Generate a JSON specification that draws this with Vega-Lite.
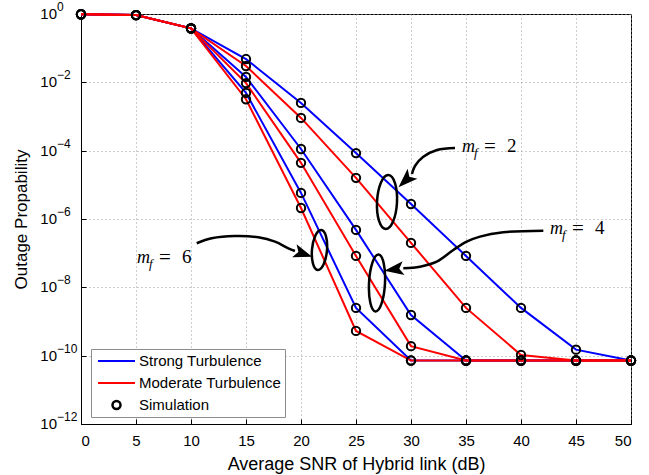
{
  "$schema": "https://vega.github.io/schema/vega-lite/v6.json",
  "width": 550,
  "height": 410,
  "autosize": "none",
  "padding": {"left": 81, "top": 14, "right": 18, "bottom": 51},
  "background": "white",
  "config": {
    "font": "Liberation Sans",
    "view": {"stroke": "black", "strokeWidth": 1},
    "axis": {
      "domainColor": "black",
      "tickColor": "black",
      "labelColor": "black",
      "titleColor": "black",
      "labelFont": "Liberation Sans",
      "titleFont": "Liberation Sans",
      "labelFontSize": 15,
      "titleFontSize": 17,
      "titleFontWeight": "normal",
      "gridColor": "#9a9a9a",
      "gridDash": [1, 3],
      "gridOpacity": 1,
      "gridWidth": 1,
      "tickSize": -5
    }
  },
  "datasets": {
    "curves": [
      {"snr": 0, "p": 0.98, "turb": "Strong Turbulence", "mf": 2},
      {"snr": 5, "p": 0.93, "turb": "Strong Turbulence", "mf": 2},
      {"snr": 10, "p": 0.38, "turb": "Strong Turbulence", "mf": 2},
      {"snr": 15, "p": 0.048, "turb": "Strong Turbulence", "mf": 2},
      {"snr": 20, "p": 2.5e-3, "turb": "Strong Turbulence", "mf": 2},
      {"snr": 25, "p": 8.5e-5, "turb": "Strong Turbulence", "mf": 2},
      {"snr": 30, "p": 2.75e-6, "turb": "Strong Turbulence", "mf": 2},
      {"snr": 35, "p": 8.3e-8, "turb": "Strong Turbulence", "mf": 2},
      {"snr": 40, "p": 2.5e-9, "turb": "Strong Turbulence", "mf": 2},
      {"snr": 45, "p": 1.5e-10, "turb": "Strong Turbulence", "mf": 2},
      {"snr": 50, "p": 7.2e-11, "turb": "Strong Turbulence", "mf": 2},

      {"snr": 0, "p": 0.98, "turb": "Strong Turbulence", "mf": 4},
      {"snr": 5, "p": 0.93, "turb": "Strong Turbulence", "mf": 4},
      {"snr": 10, "p": 0.38, "turb": "Strong Turbulence", "mf": 4},
      {"snr": 15, "p": 0.0144, "turb": "Strong Turbulence", "mf": 4},
      {"snr": 20, "p": 1.12e-4, "turb": "Strong Turbulence", "mf": 4},
      {"snr": 25, "p": 4.8e-7, "turb": "Strong Turbulence", "mf": 4},
      {"snr": 30, "p": 1.55e-9, "turb": "Strong Turbulence", "mf": 4},
      {"snr": 35, "p": 7.2e-11, "turb": "Strong Turbulence", "mf": 4},
      {"snr": 40, "p": 7.2e-11, "turb": "Strong Turbulence", "mf": 4},
      {"snr": 45, "p": 7.2e-11, "turb": "Strong Turbulence", "mf": 4},
      {"snr": 50, "p": 7.2e-11, "turb": "Strong Turbulence", "mf": 4},

      {"snr": 0, "p": 0.98, "turb": "Strong Turbulence", "mf": 6},
      {"snr": 5, "p": 0.93, "turb": "Strong Turbulence", "mf": 6},
      {"snr": 10, "p": 0.38, "turb": "Strong Turbulence", "mf": 6},
      {"snr": 15, "p": 4.9e-3, "turb": "Strong Turbulence", "mf": 6},
      {"snr": 20, "p": 5.8e-6, "turb": "Strong Turbulence", "mf": 6},
      {"snr": 25, "p": 2.5e-9, "turb": "Strong Turbulence", "mf": 6},
      {"snr": 30, "p": 7.2e-11, "turb": "Strong Turbulence", "mf": 6},
      {"snr": 35, "p": 7.2e-11, "turb": "Strong Turbulence", "mf": 6},
      {"snr": 40, "p": 7.2e-11, "turb": "Strong Turbulence", "mf": 6},
      {"snr": 45, "p": 7.2e-11, "turb": "Strong Turbulence", "mf": 6},
      {"snr": 50, "p": 7.2e-11, "turb": "Strong Turbulence", "mf": 6},

      {"snr": 0, "p": 0.98, "turb": "Moderate Turbulence", "mf": 2},
      {"snr": 5, "p": 0.93, "turb": "Moderate Turbulence", "mf": 2},
      {"snr": 10, "p": 0.38, "turb": "Moderate Turbulence", "mf": 2},
      {"snr": 15, "p": 0.030, "turb": "Moderate Turbulence", "mf": 2},
      {"snr": 20, "p": 9.1e-4, "turb": "Moderate Turbulence", "mf": 2},
      {"snr": 25, "p": 1.6e-5, "turb": "Moderate Turbulence", "mf": 2},
      {"snr": 30, "p": 2.0e-7, "turb": "Moderate Turbulence", "mf": 2},
      {"snr": 35, "p": 2.5e-9, "turb": "Moderate Turbulence", "mf": 2},
      {"snr": 40, "p": 1.05e-10, "turb": "Moderate Turbulence", "mf": 2},
      {"snr": 45, "p": 7.2e-11, "turb": "Moderate Turbulence", "mf": 2},
      {"snr": 50, "p": 7.2e-11, "turb": "Moderate Turbulence", "mf": 2},

      {"snr": 0, "p": 0.98, "turb": "Moderate Turbulence", "mf": 4},
      {"snr": 5, "p": 0.93, "turb": "Moderate Turbulence", "mf": 4},
      {"snr": 10, "p": 0.38, "turb": "Moderate Turbulence", "mf": 4},
      {"snr": 15, "p": 9.5e-3, "turb": "Moderate Turbulence", "mf": 4},
      {"snr": 20, "p": 4.4e-5, "turb": "Moderate Turbulence", "mf": 4},
      {"snr": 25, "p": 8.3e-8, "turb": "Moderate Turbulence", "mf": 4},
      {"snr": 30, "p": 1.9e-10, "turb": "Moderate Turbulence", "mf": 4},
      {"snr": 35, "p": 7.2e-11, "turb": "Moderate Turbulence", "mf": 4},
      {"snr": 40, "p": 7.2e-11, "turb": "Moderate Turbulence", "mf": 4},
      {"snr": 45, "p": 7.2e-11, "turb": "Moderate Turbulence", "mf": 4},
      {"snr": 50, "p": 7.2e-11, "turb": "Moderate Turbulence", "mf": 4},

      {"snr": 0, "p": 0.98, "turb": "Moderate Turbulence", "mf": 6},
      {"snr": 5, "p": 0.93, "turb": "Moderate Turbulence", "mf": 6},
      {"snr": 10, "p": 0.38, "turb": "Moderate Turbulence", "mf": 6},
      {"snr": 15, "p": 3.2e-3, "turb": "Moderate Turbulence", "mf": 6},
      {"snr": 20, "p": 2.1e-6, "turb": "Moderate Turbulence", "mf": 6},
      {"snr": 25, "p": 5.3e-10, "turb": "Moderate Turbulence", "mf": 6},
      {"snr": 30, "p": 7.2e-11, "turb": "Moderate Turbulence", "mf": 6},
      {"snr": 35, "p": 7.2e-11, "turb": "Moderate Turbulence", "mf": 6},
      {"snr": 40, "p": 7.2e-11, "turb": "Moderate Turbulence", "mf": 6},
      {"snr": 45, "p": 7.2e-11, "turb": "Moderate Turbulence", "mf": 6},
      {"snr": 50, "p": 7.2e-11, "turb": "Moderate Turbulence", "mf": 6}
    ],
    "decades": [
      {"snr": 0, "p": 1, "exp": "0"},
      {"snr": 0, "p": 1e-2, "exp": "−2"},
      {"snr": 0, "p": 1e-4, "exp": "−4"},
      {"snr": 0, "p": 1e-6, "exp": "−6"},
      {"snr": 0, "p": 1e-8, "exp": "−8"},
      {"snr": 0, "p": 1e-10, "exp": "−10"},
      {"snr": 0, "p": 1e-12, "exp": "−12"}
    ],
    "arrows": [
      {"mf": 2, "k": 0, "snr": 34.0, "p": 1.197e-4},
      {"mf": 2, "k": 1, "snr": 32.36, "p": 1.047e-4},
      {"mf": 2, "k": 2, "snr": 31.09, "p": 6.53e-5},
      {"mf": 2, "k": 3, "snr": 30.36, "p": 3.56e-5},
      {"mf": 2, "k": 4, "snr": 30.09, "p": 2.08e-5},

      {"mf": 4, "k": 0, "snr": 42.03, "p": 4.55e-7},
      {"mf": 4, "k": 1, "snr": 38.39, "p": 4.08e-7},
      {"mf": 4, "k": 2, "snr": 36.27, "p": 3.04e-7},
      {"mf": 4, "k": 3, "snr": 35.06, "p": 2.17e-7},
      {"mf": 4, "k": 4, "snr": 33.85, "p": 1.24e-7},
      {"mf": 4, "k": 5, "snr": 32.34, "p": 5.64e-8},
      {"mf": 4, "k": 6, "snr": 30.82, "p": 4.03e-8},
      {"mf": 4, "k": 7, "snr": 29.3, "p": 3.61e-8},

      {"mf": 6, "k": 0, "snr": 10.52, "p": 1.95e-7},
      {"mf": 6, "k": 1, "snr": 11.88, "p": 2.73e-7},
      {"mf": 6, "k": 2, "snr": 14.0, "p": 3.18e-7},
      {"mf": 6, "k": 3, "snr": 16.12, "p": 2.92e-7},
      {"mf": 6, "k": 4, "snr": 17.64, "p": 2.17e-7},
      {"mf": 6, "k": 5, "snr": 18.85, "p": 1.39e-7},
      {"mf": 6, "k": 6, "snr": 19.45, "p": 1.16e-7}
    ],
    "heads": [
      {"mf": 2, "snr": 29.5, "p": 1.34e-5},
      {"mf": 4, "snr": 28.45, "p": 3.33e-8},
      {"mf": 6, "snr": 20.21, "p": 9.6e-8}
    ],
    "rings": [
      {"mf": 2, "snr": 27.82, "p": 3.15e-6},
      {"mf": 4, "snr": 26.91, "p": 1.34e-8},
      {"mf": 6, "snr": 21.68, "p": 1.24e-7}
    ],
    "labels": [
      {"mf": 2, "snr": 34.64, "p": 9.14e-5, "num": "2"},
      {"mf": 4, "snr": 42.64, "p": 3.65e-7, "num": "4"},
      {"mf": 6, "snr": 5.09, "p": 5.16e-8, "num": "6"}
    ]
  },
  "encoding": {
    "x": {
      "field": "snr",
      "type": "quantitative",
      "scale": {"domain": [0, 50], "nice": false, "zero": false},
      "axis": {
        "title": "Average SNR of Hybrid link (dB)",
        "titleFontSize": 18,
        "values": [0, 5, 10, 15, 20, 25, 30, 35, 40, 45, 50],
        "grid": true,
        "labelPadding": 14,
        "titlePadding": 7
      }
    },
    "y": {
      "field": "p",
      "type": "quantitative",
      "scale": {"type": "log", "domain": [1e-12, 1], "nice": false},
      "axis": {
        "title": "Outage Propability",
        "values": [1, 1e-2, 1e-4, 1e-6, 1e-8, 1e-10, 1e-12],
        "grid": true,
        "labelExpr": "''",
        "labelPadding": 0,
        "titlePadding": 50
      }
    }
  },
  "layer": [
    {
      "data": {"name": "curves"},
      "mark": {"type": "line", "strokeWidth": 2},
      "encoding": {
        "color": {
          "field": "turb",
          "type": "nominal",
          "scale": {
            "domain": ["Strong Turbulence", "Moderate Turbulence", "Simulation"],
            "range": ["#0000ff", "#ff0000", "#000000"]
          },
          "legend": {
            "title": null,
            "orient": "none",
            "legendX": 10,
            "legendY": 335,
            "direction": "vertical",
            "fillColor": "white",
            "strokeColor": "#8c8c8c",
            "padding": 3,
            "labelFont": "Liberation Sans",
            "labelFontSize": 15,
            "labelColor": "black",
            "symbolStrokeWidth": 2,
            "rowPadding": 4,
            "clipHeight": 18,
            "encode": {
              "symbols": {
                "update": {
                  "x": {"value": 22.5},
                  "shape": {"signal": "datum.value === 'Simulation' ? 'circle' : 'stroke'"},
                  "size": {"signal": "datum.value === 'Simulation' ? 64 : 1369"},
                  "fill": {"value": "transparent"},
                  "strokeWidth": {"signal": "datum.value === 'Simulation' ? 2.5 : 2"}
                }
              },
              "labels": {
                "update": {
                  "x": {"value": 45}
                }
              }
            }
          }
        },
        "detail": {"field": "mf"}
      }
    },
    {
      "data": {"name": "curves"},
      "mark": {"type": "point", "shape": "circle", "filled": false, "color": "black", "strokeWidth": 2, "size": 70, "opacity": 1}
    },
    {
      "data": {"name": "decades"},
      "mark": {"type": "text", "text": "10", "fontSize": 15, "align": "right", "baseline": "middle", "color": "black", "dx": -24}
    },
    {
      "data": {"name": "decades"},
      "mark": {"type": "text", "fontSize": 12, "align": "left", "baseline": "middle", "color": "black", "dx": -24, "dy": -7},
      "encoding": {"text": {"field": "exp"}}
    },
    {
      "data": {"name": "arrows"},
      "mark": {"type": "line", "interpolate": "catmull-rom", "color": "black", "strokeWidth": 2.5},
      "encoding": {
        "detail": {"field": "mf"},
        "order": {"field": "k", "type": "quantitative"}
      }
    },
    {
      "data": {"name": "heads"},
      "transform": [{"filter": "datum.mf == 2"}],
      "mark": {"type": "point", "shape": "M1,0L-1,-0.72L-0.55,0L-1,0.72Z", "filled": true, "color": "black", "opacity": 1, "size": 380, "angle": 136}
    },
    {
      "data": {"name": "heads"},
      "transform": [{"filter": "datum.mf == 4"}],
      "mark": {"type": "point", "shape": "M1,0L-1,-0.72L-0.55,0L-1,0.72Z", "filled": true, "color": "black", "opacity": 1, "size": 380, "angle": 172}
    },
    {
      "data": {"name": "heads"},
      "transform": [{"filter": "datum.mf == 6"}],
      "mark": {"type": "point", "shape": "M1,0L-1,-0.72L-0.55,0L-1,0.72Z", "filled": true, "color": "black", "opacity": 1, "size": 360, "angle": 19}
    },
    {
      "data": {"name": "rings"},
      "transform": [{"filter": "datum.mf == 2"}],
      "mark": {"type": "point", "shape": "M0,-1A0.37,1 0 1,1 0,1A0.37,1 0 1,1 0,-1Z", "filled": false, "color": "black", "strokeWidth": 2.5, "opacity": 1, "size": 2916, "angle": 3}
    },
    {
      "data": {"name": "rings"},
      "transform": [{"filter": "datum.mf == 4"}],
      "mark": {"type": "point", "shape": "M0,-1A0.28,1 0 1,1 0,1A0.28,1 0 1,1 0,-1Z", "filled": false, "color": "black", "strokeWidth": 2.5, "opacity": 1, "size": 3249, "angle": 3}
    },
    {
      "data": {"name": "rings"},
      "transform": [{"filter": "datum.mf == 6"}],
      "mark": {"type": "point", "shape": "M0,-1A0.375,1 0 1,1 0,1A0.375,1 0 1,1 0,-1Z", "filled": false, "color": "black", "strokeWidth": 2.5, "opacity": 1, "size": 1600, "angle": 5}
    },
    {
      "data": {"name": "labels"},
      "mark": {"type": "text", "text": "m", "font": "Liberation Serif", "fontStyle": "italic", "fontSize": 18, "align": "left", "baseline": "alphabetic", "color": "black"}
    },
    {
      "data": {"name": "labels"},
      "mark": {"type": "text", "text": "f", "font": "Liberation Serif", "fontStyle": "italic", "fontSize": 13, "align": "left", "baseline": "alphabetic", "color": "black", "dx": 12, "dy": 5}
    },
    {
      "data": {"name": "labels"},
      "mark": {"type": "text", "text": "=", "font": "Liberation Serif", "fontSize": 21, "align": "left", "baseline": "alphabetic", "color": "black", "dx": 22, "dy": 1}
    },
    {
      "data": {"name": "labels"},
      "mark": {"type": "text", "font": "Liberation Serif", "fontSize": 19, "align": "left", "baseline": "alphabetic", "color": "black", "dx": 45},
      "encoding": {"text": {"field": "num"}}
    }
  ]
}
